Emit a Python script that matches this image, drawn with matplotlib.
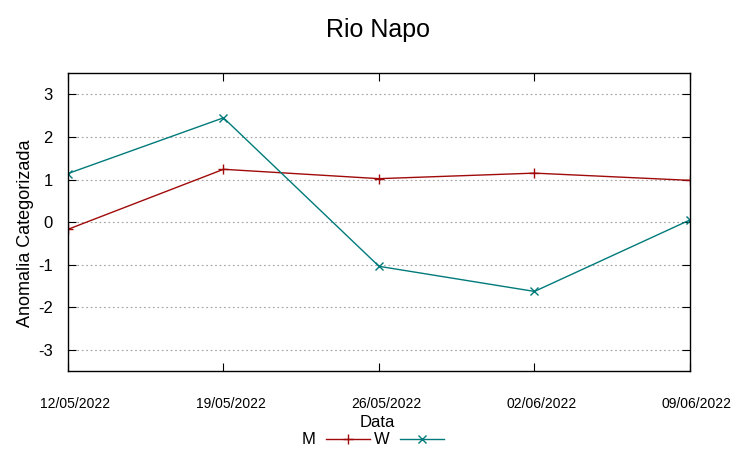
import matplotlib
matplotlib.use("Agg")
import matplotlib.pyplot as plt
import matplotlib.transforms as mtransforms

plt.rcParams['font.family'] = ['Liberation Sans', 'DejaVu Sans']

dates = ["12/05/2022", "19/05/2022", "26/05/2022", "02/06/2022", "09/06/2022"]
m_values = [-0.17, 1.24, 1.02, 1.15, 0.98]
w_values = [1.14, 2.45, -1.04, -1.63, 0.05]
y_ticks = [-3, -2, -1, 0, 1, 2, 3]

fig = plt.figure(figsize=(7.53, 4.59), dpi=100)
ax = fig.add_axes([0.0903, 0.1917, 0.826, 0.649])

x = list(range(len(dates)))
ax.plot(x, m_values, color='#a00a0a', lw=1.0, marker='+', ms=7, mew=1.0, label='M')
ax.plot(x, w_values, color='#007a7a', lw=1.0, marker='x', ms=6, mew=1.0, label='W')

ax.set_xlim(0, len(dates) - 1)
ax.set_ylim(-3.5, 3.5)
ax.set_xticks(x)
ax.set_xticklabels(dates, fontsize=10)
ax.set_yticks(y_ticks)
ax.set_yticklabels([str(v) for v in y_ticks], fontsize=12)
ax.tick_params(axis='x', direction='in', length=6, pad=19, top=True)
ax.tick_params(axis='y', direction='in', length=6, pad=11, right=True)
offset = mtransforms.ScaledTranslation(7 / 100, 0, fig.dpi_scale_trans)
for lbl in ax.get_xticklabels():
    lbl.set_transform(lbl.get_transform() + offset)
ax.yaxis.grid(True, linestyle=(0, (1.5, 2.5)), color='#a0a0a0', lw=0.8)
for s in ax.spines.values():
    s.set_linewidth(1.0)
    s.set_color('black')

ax.set_xlabel('Data', fontsize=12, va='center')
ax.xaxis.set_label_coords(0.497, -0.1745)
ax.set_ylabel('Anomalia Categorizada', fontsize=13, va='center')
ax.yaxis.set_label_coords(-0.069, 0.463)
fig.text(0.502, 1 - 37 / 459, 'Rio Napo', fontsize=18, ha='center', va='baseline')

ax.legend(loc='center', bbox_to_anchor=(0.49, -0.2315), ncol=2, frameon=False,
          markerfirst=False, fontsize=12, handlelength=2.65, columnspacing=0.2,
          handletextpad=0.65, borderpad=0)

fig.savefig('out.png', dpi=100)
